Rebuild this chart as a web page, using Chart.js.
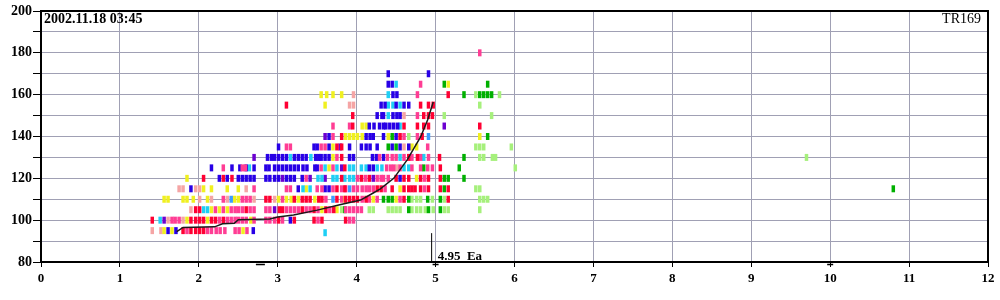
<!DOCTYPE html>
<html lang="en">
<head>
  <meta charset="UTF-8">
  <title>TR169 - 2002.11.18 03:45</title>
  <script src="https://cdn.jsdelivr.net/npm/chart.js"></script>
  <style>
    body { margin: 0; padding: 0; background: #fff; }
    #wrap { width: 1000px; height: 300px; }
  </style>
</head>
<body>
  <div id="wrap"><canvas id="chart"></canvas></div>

  <script>
    // header texts
    const stamp = '2002.11.18 03:45';
    const station = 'TR169';
    const eaX = 4.95;
    const eaTop = 93.8;
    const eaLabel = '4.95  Ea';

    // tick values
    const xTicks = [0, 1, 2, 3, 4, 5, 6, 7, 8, 9, 10, 11, 12];
    const yTicks = [80, 100, 120, 140, 160, 180, 200];

    // marks per colour, as [row value, [x positions]]
    const redRows = [
      [95, [1.80, 1.90, 1.96, 2.01, 2.06]],
      [100, [1.41, 1.90, 1.96, 2.01, 2.06, 2.16, 2.21, 2.31, 3.01, 3.21, 3.46, 3.56, 3.86]],
      [105, [1.96, 2.01, 2.60, 3.02, 3.06, 3.31, 3.46, 3.61, 3.71]],
      [110, [2.85, 2.90, 3.21, 3.31, 3.36, 3.41, 3.52, 3.56, 3.75, 3.86, 3.91, 3.96, 4.01, 4.12, 4.60, 5.16]],
      [115, [3.75, 3.85, 4.26, 4.31, 4.45, 4.60, 4.66, 4.70, 4.74, 4.81, 4.91, 5.06, 5.16]],
      [120, [2.06, 2.31, 2.42, 3.81, 4.06, 4.16, 4.50, 4.60, 4.66, 4.81, 4.91, 5.06]],
      [125, [3.85, 5.06]],
      [130, [3.81, 4.66, 4.77, 5.05]],
      [135, [3.75, 3.81]],
      [140, [3.81, 4.55, 4.83]],
      [145, [3.95, 4.60, 4.77, 4.85, 4.91, 5.56]],
      [150, [3.95, 4.85, 4.91, 4.96]],
      [155, [3.11, 4.81, 4.91, 4.97]],
      [160, [5.16]]
    ];
    const pinkRows = [
      [95, [1.85, 2.11, 2.16, 2.22, 2.27, 2.33, 2.46, 2.51, 2.61]],
      [100, [1.66, 1.70, 1.75, 2.26, 2.36, 2.41, 2.46, 2.50, 2.55, 2.60, 2.70, 2.85, 2.90, 2.96, 3.06, 3.51, 3.91, 3.96]],
      [105, [2.21, 2.31, 2.41, 2.46, 2.50, 2.55, 2.65, 2.70, 2.85, 2.90, 3.11, 3.16, 3.21, 3.26, 3.36, 3.41, 3.51, 3.66, 3.86, 3.91, 3.96, 4.01, 4.06]],
      [110, [2.31, 2.55, 2.60, 2.65, 3.06, 3.61, 3.81, 4.07, 4.16, 4.26, 4.55]],
      [115, [2.70, 3.11, 3.16, 3.50, 3.56, 3.70, 3.81, 3.86, 3.96, 4.01, 4.07, 4.12, 4.16, 4.21, 4.36, 4.86]],
      [120, [3.36, 4.01, 4.11, 4.26, 4.31, 4.34, 4.40, 4.86]],
      [125, [2.31, 2.55, 2.59, 3.55, 3.70, 4.38, 4.43, 4.47, 4.55, 4.70, 4.81, 4.90, 4.96]],
      [130, [3.75, 4.29, 4.39, 4.45, 4.50, 4.60, 4.70, 4.81, 4.91]],
      [135, [3.11, 3.16, 3.55, 3.60, 4.90]],
      [140, [3.70, 4.60, 4.77]],
      [145, [3.70, 3.91]],
      [150, [4.77]],
      [160, [4.77]],
      [165, [4.81]],
      [180, [5.56]]
    ];
    const lightPinkRows = [
      [95, [1.41, 1.52]],
      [100, [1.61, 1.80]],
      [105, [1.90]],
      [110, [2.01, 2.16, 2.36, 2.70, 2.96]],
      [115, [1.75, 1.80, 1.96, 2.01, 2.60]],
      [125, [4.51]],
      [135, [4.60]],
      [150, [4.60]],
      [155, [3.91, 3.96]],
      [160, [3.96]]
    ];
    const yellowRows = [
      [95, [1.56, 1.66, 2.56]],
      [100, [1.85, 2.11, 2.66]],
      [105, [2.16, 2.26, 2.36, 3.56, 3.75]],
      [110, [1.56, 1.61, 1.80, 1.85, 1.93, 2.11, 2.45, 2.50, 3.01, 3.11, 3.17, 3.26, 3.47, 3.85, 4.21, 4.50]],
      [115, [2.06, 2.16, 2.36, 2.50, 3.36, 4.55]],
      [120, [1.85, 4.76]],
      [125, [3.65]],
      [130, [3.70]],
      [135, [3.70, 4.70, 4.76]],
      [140, [3.86, 3.91, 3.96, 4.01, 4.07, 4.40, 5.56]],
      [145, [4.07, 4.12]],
      [155, [3.60]],
      [160, [3.55, 3.62, 3.70, 3.81]],
      [165, [5.16]]
    ];
    const blueRows = [
      [95, [1.61, 1.71, 2.69]],
      [100, [3.16]],
      [115, [1.90, 3.26, 3.60, 3.65]],
      [120, [2.26, 2.36, 2.50, 2.55, 2.60, 2.65, 2.70, 2.85, 2.90, 2.96, 3.01, 3.11, 3.16, 3.21, 3.31, 4.55]],
      [125, [2.16, 2.42, 2.52, 2.60, 2.70, 2.85, 2.89, 2.96, 3.01, 3.06, 3.11, 3.16, 3.21, 3.26, 3.32, 3.37, 3.47, 3.50, 4.16, 4.21]],
      [130, [2.87, 2.92, 2.96, 3.01, 3.06, 3.11, 3.21, 3.26, 3.31, 3.36, 3.48, 3.52, 3.55, 3.60, 3.65, 3.91, 3.96, 4.20, 4.25, 4.34]],
      [135, [3.01, 3.46, 3.50, 3.65, 3.91, 4.06, 4.12, 4.17, 4.26, 4.45, 4.55, 4.66]],
      [140, [3.65, 4.12, 4.17, 4.21, 4.34, 4.50]],
      [145, [4.16, 4.22, 4.29, 4.34, 4.37, 4.42, 4.47, 4.52]],
      [150, [4.26, 4.32, 4.34, 4.46, 4.51, 4.55]],
      [155, [4.31, 4.36, 4.50, 4.60, 4.66]],
      [160, [4.46, 4.51]],
      [165, [4.40, 4.45]],
      [170, [4.40, 4.91]]
    ];
    const cyanRows = [
      [94, [3.60]],
      [100, [1.51]],
      [105, [2.06, 2.11]],
      [115, [3.32, 3.41]],
      [120, [3.51, 3.56, 3.70, 3.75, 3.85, 3.91, 3.96]],
      [125, [2.64, 3.60, 3.75, 3.91, 3.96, 4.06, 4.12, 4.26, 4.32, 4.60, 4.66]],
      [130, [3.16, 3.42, 4.55, 4.85]],
      [145, [4.55]],
      [150, [4.40]],
      [155, [4.40, 4.46, 4.55]],
      [160, [4.40]],
      [165, [4.50]]
    ];
    const purpleRows = [
      [100, [1.56]],
      [105, [2.96]],
      [120, [3.06, 3.41, 3.60, 4.21]],
      [125, [3.81]],
      [130, [2.70]],
      [135, [3.79]],
      [140, [3.60]],
      [145, [5.11]]
    ];
    const lightBlueRows = [
      [110, [2.41, 3.70]],
      [115, [3.91]],
      [140, [4.91]]
    ];
    const greenRows = [
      [105, [3.85, 4.66, 4.91, 5.06]],
      [110, [4.34, 4.40, 4.45, 4.66, 4.90, 5.06]],
      [115, [5.11, 10.8]],
      [120, [5.11, 5.16, 5.36]],
      [125, [4.85, 5.30]],
      [130, [5.36]],
      [135, [4.40, 4.50]],
      [140, [4.45, 5.66]],
      [160, [5.36, 5.56, 5.61, 5.66, 5.71]],
      [165, [5.11, 5.66]]
    ];
    const lightGreenRows = [
      [105, [3.81, 4.16, 4.21, 4.40, 4.45, 4.50, 4.55, 4.70, 4.76, 4.81, 4.87, 4.97, 5.11, 5.16, 5.56]],
      [110, [4.70, 4.76, 4.81, 4.96, 5.11, 5.56, 5.61, 5.66]],
      [115, [5.51, 5.56]],
      [125, [6.01]],
      [130, [5.56, 5.61, 5.72, 5.76, 9.7]],
      [135, [5.51, 5.56, 5.61, 5.96]],
      [140, [4.66]],
      [150, [5.11, 5.71]],
      [155, [5.56]],
      [160, [5.51, 5.81]]
    ];

    // fitted curve
    const fitX = [1.72, 1.80, 2.20, 2.30, 2.45, 2.50, 2.90, 3.00, 3.20, 3.50, 3.80, 4.05, 4.21, 4.30, 4.47, 4.64, 4.81, 4.90, 4.97];
    const fitY = [94.5, 96.5, 96.8, 98.3, 98.5, 100.2, 100.6, 101.5, 102.5, 104.8, 107.5, 109.6, 113, 115, 120, 128.8, 139.8, 148, 156.5];

    // small markers under the x axis
    const markX = [2.78, 5, 10];
    const markY = [78.8, 78.8, 78.8];
    const markSize = [4.5, 3, 3];

    function toPoints(rows) {
      const pts = [];
      rows.forEach(([y, xs]) => xs.forEach(x => pts.push({ x: x, y: y })));
      return pts;
    }

    function dashSet(rows, color) {
      return {
        data: toPoints(rows),
        pointStyle: 'line',
        rotation: 90,
        pointRadius: 3.5,
        pointHoverRadius: 3.5,
        pointBorderWidth: 3.5,
        borderColor: color,
        backgroundColor: color,
        showLine: false
      };
    }

    const frameAndText = {
      id: 'frameAndText',
      afterDraw(chart) {
        const { ctx, chartArea: a, scales } = chart;
        ctx.save();
        ctx.strokeStyle = '#000';
        ctx.lineWidth = 2;
        ctx.strokeRect(a.left, a.top, a.right - a.left, a.bottom - a.top);

        ctx.fillStyle = '#000';
        ctx.textBaseline = 'top';
        ctx.font = 'bold 14px "Liberation Serif"';
        ctx.textAlign = 'left';
        ctx.fillText(stamp, a.left + 3, a.top + 1);
        ctx.font = '14px "Liberation Serif"';
        ctx.textAlign = 'right';
        ctx.fillText(station, a.right - 7, a.top + 1);

        ctx.font = 'bold 13px "Liberation Serif"';
        ctx.textAlign = 'left';
        ctx.textBaseline = 'alphabetic';
        ctx.fillText(eaLabel, scales.x.getPixelForValue(eaX) + 6, a.bottom - 2);
        ctx.restore();
      }
    };

    const datasets = [
      {
        data: fitX.map((x, i) => ({ x: x, y: fitY[i] })),
        showLine: true,
        borderColor: '#1a1a1a',
        borderWidth: 1.5,
        pointRadius: 0,
        tension: 0
      },
      {
        data: [{ x: eaX, y: 80 }, { x: eaX, y: eaTop }],
        showLine: true,
        borderColor: '#000',
        borderWidth: 1,
        pointRadius: 0
      },
      {
        data: markX.map((x, i) => ({ x: x, y: markY[i] })),
        pointStyle: 'line',
        pointRadius: markSize,
        pointBorderWidth: 1.5,
        borderColor: '#000',
        showLine: false,
        clip: false
      },
      dashSet(redRows, '#ff0033'),
      dashSet(pinkRows, '#ff3d94'),
      dashSet(blueRows, '#2800e6'),
      dashSet(cyanRows, '#1ecff5'),
      dashSet(purpleRows, '#6c00d0'),
      dashSet(lightBlueRows, '#3c9cff'),
      dashSet(yellowRows, '#f0f020'),
      dashSet(lightPinkRows, '#f5a5a5'),
      dashSet(greenRows, '#00b000'),
      dashSet(lightGreenRows, '#a6f07c')
    ];

    new Chart(document.getElementById('chart'), {
      type: 'scatter',
      data: { datasets: datasets },
      options: {
        responsive: true,
        maintainAspectRatio: false,
        animation: false,
        events: [],
        layout: { padding: { top: 11, right: 12, left: 0, bottom: 0 } },
        scales: {
          x: {
            type: 'linear',
            min: xTicks[0],
            max: xTicks[xTicks.length - 1],
            afterFit: s => { s.height = 38; },
            ticks: { stepSize: 1, color: '#000', font: { family: '"Liberation Serif"', size: 13, weight: 'bold' }, padding: 4 },
            grid: { color: '#a0a0b4', tickColor: '#000', tickLength: 5 },
            border: { color: '#000', width: 2 }
          },
          y: {
            min: yTicks[0],
            max: yTicks[yTicks.length - 1],
            afterFit: s => { s.width = 41; },
            ticks: {
              stepSize: 10,
              color: '#000',
              font: { family: '"Liberation Serif"', size: 14, weight: 'bold' },
              padding: 1,
              callback: v => yTicks.includes(v) ? v : ''
            },
            grid: { color: '#a0a0b4', tickColor: '#000', tickLength: 8 },
            border: { color: '#000', width: 2 }
          }
        },
        plugins: {
          legend: { display: false },
          tooltip: { enabled: false }
        }
      },
      plugins: [frameAndText]
    });
  </script>
</body>
</html>
